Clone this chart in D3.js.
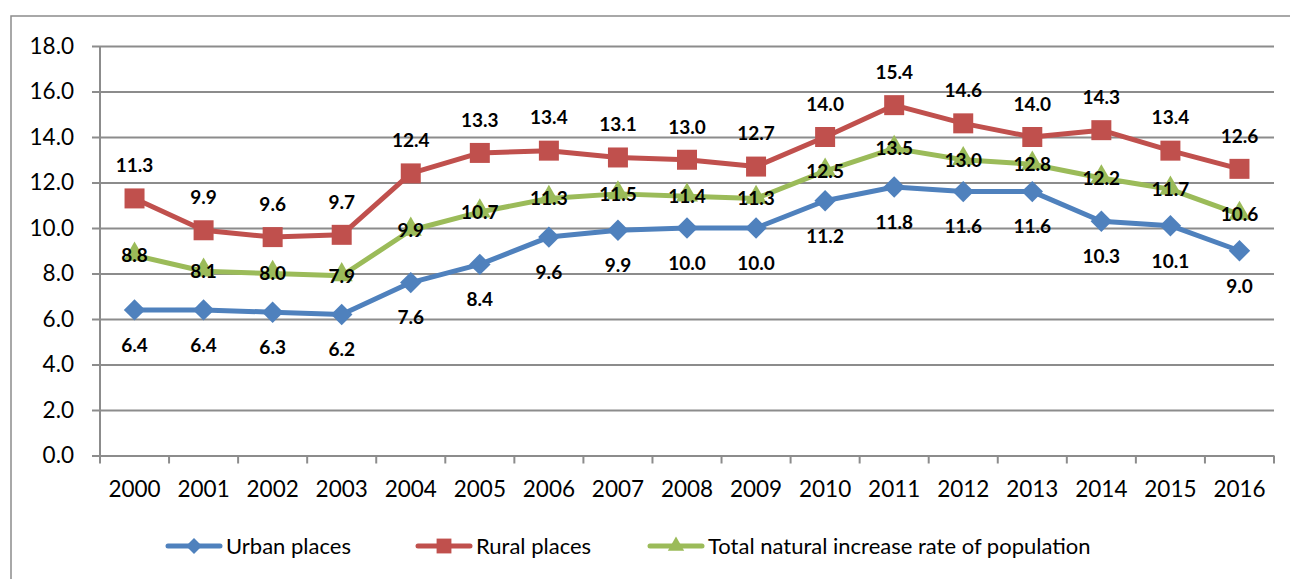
<!DOCTYPE html>
<html lang="en">
<head>
    <meta charset="UTF-8">
    <title>Natural increase rate</title>
    <script src="https://d3js.org/d3.v7.min.js"></script>
    <style>
        body { margin: 0; background: #fff; }
        text { font-family: Lato, "Open Sans", sans-serif; }
    </style>
</head>
<body>
<div id="chart"></div>
<script>
    var years = ["2000","2001","2002","2003","2004","2005","2006","2007","2008",
                 "2009","2010","2011","2012","2013","2014","2015","2016"];
    var urban = [6.4, 6.4, 6.3, 6.2, 7.6, 8.4, 9.6, 9.9, 10.0, 10.0, 11.2, 11.8, 11.6, 11.6, 10.3, 10.1, 9.0];
    var rural = [11.3, 9.9, 9.6, 9.7, 12.4, 13.3, 13.4, 13.1, 13.0, 12.7, 14.0, 15.4, 14.6, 14.0, 14.3, 13.4, 12.6];
    var total = [8.8, 8.1, 8.0, 7.9, 9.9, 10.7, 11.3, 11.5, 11.4, 11.3, 12.5, 13.5, 13.0, 12.8, 12.2, 11.7, 10.6];
    var yTicks = [0, 2, 4, 6, 8, 10, 12, 14, 16, 18];

    // diamond = square turned 45 degrees (excel style, as wide as tall)
    var series = [
        {name: "Urban places", values: urban, color: "#4F81BD", marker: d3.symbolSquare, rot: 45, size: 230, labelDy: 35},
        {name: "Rural places", values: rural, color: "#C0504D", marker: d3.symbolSquare, rot: 0, size: 400, labelDy: -33},
        {name: "Total natural increase rate of population", values: total, color: "#9BBB59", marker: d3.symbolTriangle, rot: 0, size: 210, labelDy: 0}
    ];

    var W = 1290, H = 579;
    var plotL = 100, plotR = 1274, plotT = 46, plotB = 455.5;
    var grid = "#8c8c8c";

    var svg = d3.select("#chart").append("svg")
        .attr("width", W).attr("height", H);

    // chart area border
    svg.append("rect")
        .attr("x", 11).attr("y", 16)
        .attr("width", 1300).attr("height", 600)
        .attr("fill", "none")
        .attr("stroke", grid).attr("stroke-width", 1.5);

    var x = d3.scaleBand().domain(years).range([plotL, plotR]).padding(0);
    var y = d3.scaleLinear().domain([0, 18]).range([plotB, plotT]);
    var cx = function(i) { return x(years[i]) + x.bandwidth() / 2; };

    // gridlines + y axis
    var yAxis = d3.axisLeft(y).tickValues(yTicks)
        .tickSize(-(plotR - plotL))
        .tickFormat(d3.format(".1f"));
    var gy = svg.append("g").attr("transform", "translate(" + plotL + ",0)").call(yAxis);
    gy.select(".domain").remove();
    gy.selectAll(".tick line").attr("stroke", grid).attr("stroke-width", 2).attr("x1", -8);
    gy.selectAll(".tick text").attr("x", -26).attr("font-size", "22.5px").attr("fill", "#000");

    svg.append("line")
        .attr("x1", plotL).attr("x2", plotL).attr("y1", plotT).attr("y2", plotB)
        .attr("stroke", grid).attr("stroke-width", 2);

    // x axis
    var xAxis = d3.axisBottom(x).tickSize(0).tickPadding(0);
    var gx = svg.append("g").attr("transform", "translate(0," + plotB + ")").call(xAxis);
    gx.select(".domain").remove();
    gx.selectAll(".tick text").attr("y", 41.5).attr("dy", 0)
        .attr("font-size", "22.5px").attr("fill", "#000");
    var edges = years.map(function(d) { return x(d); }).concat([plotR]);
    svg.append("g").selectAll("line").data(edges).enter().append("line")
        .attr("x1", function(d) { return d; }).attr("x2", function(d) { return d; })
        .attr("y1", plotB).attr("y2", plotB + 8)
        .attr("stroke", grid).attr("stroke-width", 2);

    // lines and markers
    var line = d3.line()
        .x(function(d, i) { return cx(i); })
        .y(function(d) { return y(d); });

    series.forEach(function(s) {
        svg.append("path")
            .datum(s.values)
            .attr("d", line)
            .attr("fill", "none")
            .attr("stroke", s.color)
            .attr("stroke-width", 5)
            .attr("stroke-linejoin", "round");
    });

    series.forEach(function(s) {
        svg.append("g").selectAll("path").data(s.values).enter().append("path")
            .attr("d", d3.symbol().type(s.marker).size(s.size))
            .attr("transform", function(d, i) {
                var off = s.marker === d3.symbolTriangle ? -1 : 0;
                return "translate(" + cx(i) + "," + (y(d) + off) + ") rotate(" + s.rot + ")";
            })
            .attr("fill", s.color);
    });

    // data labels
    series.forEach(function(s) {
        svg.append("g").selectAll("text").data(s.values).enter().append("text")
            .attr("x", function(d, i) { return cx(i); })
            .attr("y", function(d) { return y(d) + s.labelDy; })
            .attr("dy", "0.36em")
            .attr("text-anchor", "middle")
            .attr("font-size", "19px")
            .attr("font-weight", "bold")
            .attr("fill", "#000")
            .text(function(d) { return d.toFixed(1); });
    });

    // legend
    var legendX = [168, 418, 650];
    var legendY = 546;
    var lg = svg.append("g").selectAll("g").data(series).enter().append("g")
        .attr("transform", function(d, i) { return "translate(" + legendX[i] + "," + legendY + ")"; });
    lg.append("line")
        .attr("x1", 0).attr("x2", 52)
        .attr("stroke", function(d) { return d.color; })
        .attr("stroke-width", 5)
        .attr("stroke-linecap", "round");
    lg.append("path")
        .attr("d", function(d) { return d3.symbol().type(d.marker).size(d.size * 0.55)(); })
        .attr("transform", function(d) { return "translate(26,0) rotate(" + d.rot + ")"; })
        .attr("fill", function(d) { return d.color; });
    lg.append("text")
        .attr("x", 58).attr("y", 8)
        .attr("font-size", "22px")
        .attr("fill", "#000")
        .text(function(d) { return d.name; });
</script>
</body>
</html>
